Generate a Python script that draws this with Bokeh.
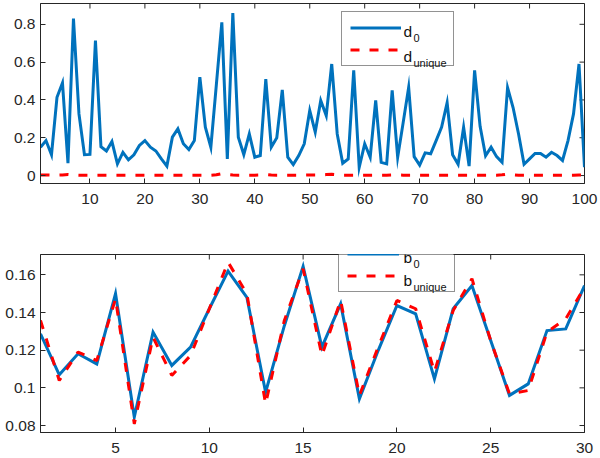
import math
from bokeh.plotting import figure
from bokeh.layouts import column
from bokeh.models import (FixedTicker, Legend, LegendItem, Label, BoxAnnotation,
                          CustomJSTickFormatter, Range1d)
from bokeh.core.properties import value
from bokeh.embed import file_html
from bokeh.resources import INLINE

# ---------------- data ----------------
idx_d = list(range(1, 101))
d0 = [0.150, 0.185, 0.110, 0.414, 0.490, 0.065, 0.830, 0.326, 0.110, 0.112,
      0.714, 0.153, 0.130, 0.180, 0.062, 0.123, 0.083, 0.110, 0.159, 0.185,
      0.150, 0.130, 0.088, 0.050, 0.203, 0.247, 0.168, 0.138, 0.185, 0.520,
      0.256, 0.150, 0.480, 0.810, 0.088, 0.860, 0.203, 0.111, 0.220, 0.097,
      0.106, 0.510, 0.150, 0.200, 0.453, 0.097, 0.058, 0.106, 0.168, 0.344,
      0.230, 0.397, 0.317, 0.590, 0.220, 0.065, 0.088, 0.556, 0.044, 0.168,
      0.097, 0.397, 0.070, 0.062, 0.450, 0.097, 0.280, 0.467, 0.100, 0.055,
      0.120, 0.115, 0.185, 0.256, 0.385, 0.110, 0.060, 0.256, 0.050, 0.556,
      0.260, 0.105, 0.150, 0.100, 0.070, 0.465, 0.360, 0.220, 0.060, 0.088,
      0.117, 0.117, 0.097, 0.123, 0.106, 0.080, 0.185, 0.326, 0.590, 0.044]
d_unique = [0.003, 0.003, 0.002, 0.002, 0.003, 0.006, 0.003, 0.002, 0.002, 0.002,
            0.002, 0.002, 0.002, 0.002, 0.002, 0.002, 0.002, 0.002, 0.002, 0.002,
            0.002, 0.002, 0.002, 0.002, 0.002, 0.002, 0.002, 0.002, 0.002, 0.002,
            0.002, 0.002, 0.004, 0.010, 0.006, 0.003, 0.002, 0.002, 0.002, 0.002,
            0.003, 0.006, 0.003, 0.002, 0.002, 0.002, 0.002, 0.002, 0.002, 0.003,
            0.003, 0.003, 0.005, 0.007, 0.004, 0.002, 0.002, 0.002, 0.002, 0.002,
            0.002, 0.002, 0.002, 0.002, 0.003, 0.003, 0.002, 0.002, 0.002, 0.002,
            0.002, 0.002, 0.002, 0.002, 0.002, 0.002, 0.002, 0.002, 0.002, 0.002,
            0.002, 0.002, 0.002, 0.002, 0.004, 0.008, 0.004, 0.002, 0.002, 0.002,
            0.002, 0.002, 0.002, 0.002, 0.002, 0.002, 0.002, 0.002, 0.003, 0.003]

idx_b = list(range(1, 31))
b0 = [0.1287, 0.1069, 0.1181, 0.1127, 0.1500, 0.0845, 0.1296, 0.1119, 0.1216, 0.1420,
      0.1620, 0.1481, 0.0977, 0.1330, 0.1645, 0.1216, 0.1446, 0.0942, 0.1198, 0.1437,
      0.1393, 0.1048, 0.1420, 0.1543, 0.1251, 0.0960, 0.1021, 0.1304, 0.1313, 0.1543]
b_unique = [0.1358, 0.1039, 0.1190, 0.1145, 0.1473, 0.0809, 0.1269, 0.1066, 0.1172, 0.1420,
            0.1667, 0.1500, 0.0915, 0.1358, 0.1632, 0.1172, 0.1464, 0.0960, 0.1216, 0.1464,
            0.1420, 0.1085, 0.1411, 0.1579, 0.1251, 0.0968, 0.0986, 0.1296, 0.1366, 0.1534]

top_xticks = [10, 20, 30, 40, 50, 60, 70, 80, 90, 100]
top_yticks = [0, 0.2, 0.4, 0.6, 0.8]
bot_xticks = [5, 10, 15, 20, 25, 30]
bot_yticks = [0.08, 0.1, 0.12, 0.14, 0.16]

top_xrange = (1, 100)
top_yrange = (-0.042, 0.91)
bot_xrange = (1, 30)
bot_yrange = (0.0763, 0.1708)

# ---------------- style ----------------
FONT = "Liberation Sans"
AX = "#262626"
BLUE = "#0072BD"
RED = "#FF0000"
TICK_FS = "15.5px"


def style_axis(ax, ticks):
    ax.ticker = FixedTicker(ticks=ticks)
    ax.formatter = CustomJSTickFormatter(code="return tick.toString();")
    ax.axis_line_color = AX
    ax.axis_line_width = 1
    ax.major_tick_line_color = AX
    ax.major_tick_in = 5
    ax.major_tick_out = 0
    ax.minor_tick_line_color = None
    ax.major_label_text_font = FONT
    ax.major_label_text_color = AX
    ax.major_label_text_font_size = TICK_FS


def make_fig(height, xr, yr, xticks, yticks, b_top, b_bottom):
    p = figure(width=600, height=height, x_range=Range1d(*xr), y_range=Range1d(*yr),
               output_backend="svg", toolbar_location=None,
               min_border_left=40, min_border_right=16,
               min_border_top=b_top, min_border_bottom=b_bottom)
    p.xgrid.visible = False
    p.ygrid.visible = False
    p.outline_line_color = AX
    p.outline_line_width = 1
    p.outline_line_alpha = 1
    p.background_fill_color = "white"
    p.border_fill_color = "white"
    style_axis(p.xaxis[0], xticks)
    style_axis(p.yaxis[0], yticks)
    p.xaxis[0].major_label_standoff = 10
    p.yaxis[0].major_label_standoff = 5
    # mirrored inward ticks on the top and right edges (clipped to the frame)
    p.scatter(x=xticks, y=[yr[1]] * len(xticks), marker="dash", size=10,
              angle=math.pi / 2, line_color=AX, line_width=1)
    p.scatter(x=[xr[1]] * len(yticks), y=yticks, marker="dash", size=10,
              line_color=AX, line_width=1)
    return p


def add_legend(p, r1, r2, left, bottom, glyph_w, standoff, label_w):
    width = 8 + glyph_w + standoff + label_w + 8
    height = 8 + 15 + 7 + 15 + 8
    p.add_layout(BoxAnnotation(left=left, right=left + width, bottom=bottom,
                               top=bottom + height, left_units="screen",
                               right_units="screen", top_units="screen",
                               bottom_units="screen", fill_color="white",
                               fill_alpha=1, line_color=None))
    leg = Legend(items=[LegendItem(label=value(" "), renderers=[r1]),
                        LegendItem(label=value(" "), renderers=[r2])],
                 location=(left, bottom), orientation="vertical", padding=8,
                 spacing=7, glyph_width=glyph_w, glyph_height=15, label_height=15,
                 label_width=label_w, label_standoff=standoff, margin=0,
                 border_line_color=AX, border_line_width=1,
                 background_fill_color="white", background_fill_alpha=0,
                 label_text_font_size="8px")
    p.add_layout(leg)


def add_text(p, x, y, text, size):
    p.add_layout(Label(x=x, y=y, x_units="screen", y_units="screen", text=text,
                       text_font=FONT, text_font_size=size, text_color="#111111",
                       text_baseline="alphabetic", text_align="left"))


# ---------------- top plot ----------------
p1 = make_fig(210, top_xrange, top_yrange, top_xticks, top_yticks, 3, 27)
r1 = p1.line(idx_d, d0, line_color=BLUE, line_width=3, line_join="miter")
r2 = p1.line(idx_d, d_unique, line_color=RED, line_width=3, line_dash="9 10")
add_legend(p1, r1, r2, 301, 117, 51, 3, 41)
add_text(p1, 363, 152.3, "d", "15.5px")
add_text(p1, 373, 145.8, "0", "11px")
add_text(p1, 363, 127.5, "d", "15.5px")
add_text(p1, 373, 121, "unique", "11px")

# ---------------- bottom plot ----------------
p2 = make_fig(248, bot_xrange, bot_yrange, bot_xticks, bot_yticks, 44, 26)
s1 = p2.line(idx_b, b0, line_color=BLUE, line_width=3, line_join="miter")
s2 = p2.line(idx_b, b_unique, line_color=RED, line_width=3, line_dash="9 10")
add_legend(p2, s1, s2, 298, 140, 52, 5, 42)
add_text(p2, 363, 175.3, "b", "15.5px")
add_text(p2, 373, 168.8, "0", "11px")
add_text(p2, 363, 152.3, "b", "15.5px")
add_text(p2, 373, 145.8, "unique", "11px")

layout = column(p1, p2, spacing=0)

open("out.html", "w").write(file_html(layout, INLINE))
